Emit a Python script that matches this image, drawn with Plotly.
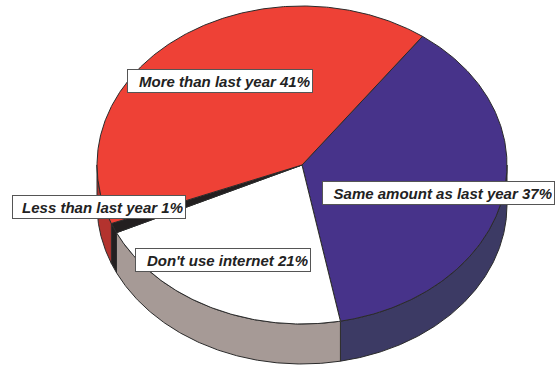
import numpy as np
import plotly.graph_objects as go

# Survey answers, listed clockwise from the upper-right edge of the pie
categories = ["Same amount as last year", "Don't use internet",
              "Less than last year", "More than last year"]
shares = [37, 21, 1, 41]

# Styling per slice: top face and outer wall
top_colors = ["#47338A", "#FFFFFF", "#231F20", "#EE4136"]
wall_colors = ["#3C3A64", "#A69A96", "#231F20", "#B3332E"]

# Label box placement (left, top, width) in pixel space
label_boxes = [(322, 181, 235), (135, 248, 178), (12, 195, 176), (127, 69, 188)]

W, H = 560, 366
CX, CY, RX, RY, DEPTH = 302, 165, 205, 159, 40
START = 54.0  # degrees, first slice boundary, slices run clockwise
EDGE = "#2B2B2B"


def rim(t_deg, drop=0.0):
    t = np.radians(t_deg)
    return CX + RX * np.cos(t), CY - RY * np.sin(t) + drop


fig = go.Figure()

total = float(sum(shares))
bounds = []
acc = 0.0
for s in shares:
    a_hi = START - 360.0 * acc / total
    acc += s
    a_lo = START - 360.0 * acc / total
    bounds.append((a_lo, a_hi))

# Outer walls (only the front half of the rim is visible)
for (a_lo, a_hi), col in zip(bounds, wall_colors):
    for win_lo, win_hi in [(-180.0, 0.0), (-540.0, -360.0)]:
        lo, hi = max(a_lo, win_lo), min(a_hi, win_hi)
        if hi <= lo:
            continue
        t = np.linspace(lo, hi, 160)
        xt, yt = rim(t)
        xb, yb = rim(t[::-1], DEPTH)
        fig.add_trace(go.Scatter(
            x=np.concatenate([xt, xb, xt[:1]]),
            y=np.concatenate([yt, yb, yt[:1]]),
            mode="lines", fill="toself", fillcolor=col,
            line=dict(color=EDGE, width=1), hoverinfo="skip",
            showlegend=False))

# Top faces of the slices
for (a_lo, a_hi), col in zip(bounds, top_colors):
    n = max(int((a_hi - a_lo) * 2), 8)
    t = np.linspace(a_hi, a_lo, n)
    xa, ya = rim(t)
    fig.add_trace(go.Scatter(
        x=np.concatenate([[CX], xa, [CX]]),
        y=np.concatenate([[CY], ya, [CY]]),
        mode="lines", fill="toself", fillcolor=col,
        line=dict(color=EDGE, width=1), hoverinfo="skip",
        showlegend=False))

# Boxed labels
for cat, s, (bx, by, bw) in zip(categories, shares, label_boxes):
    fig.add_annotation(
        x=bx, y=by, xref="x", yref="y", xanchor="left", yanchor="top",
        text=f"{cat} {s}%", showarrow=False, align="right",
        width=bw - 8, height=18,
        font=dict(family="Liberation Sans, Arial, sans-serif", size=15,
                  color="#222222", weight="bold", style="italic"),
        bgcolor="#FFFFFF", bordercolor="#555555", borderwidth=1,
        borderpad=2)

fig.update_layout(
    width=W, height=H,
    margin=dict(l=0, r=0, t=0, b=0),
    paper_bgcolor="#FFFFFF", plot_bgcolor="#FFFFFF",
    xaxis=dict(range=[0, W], visible=False, fixedrange=True),
    yaxis=dict(range=[H, 0], visible=False, fixedrange=True),
    showlegend=False,
)

fig.write_html("out.html", config={"displayModeBar": False})
